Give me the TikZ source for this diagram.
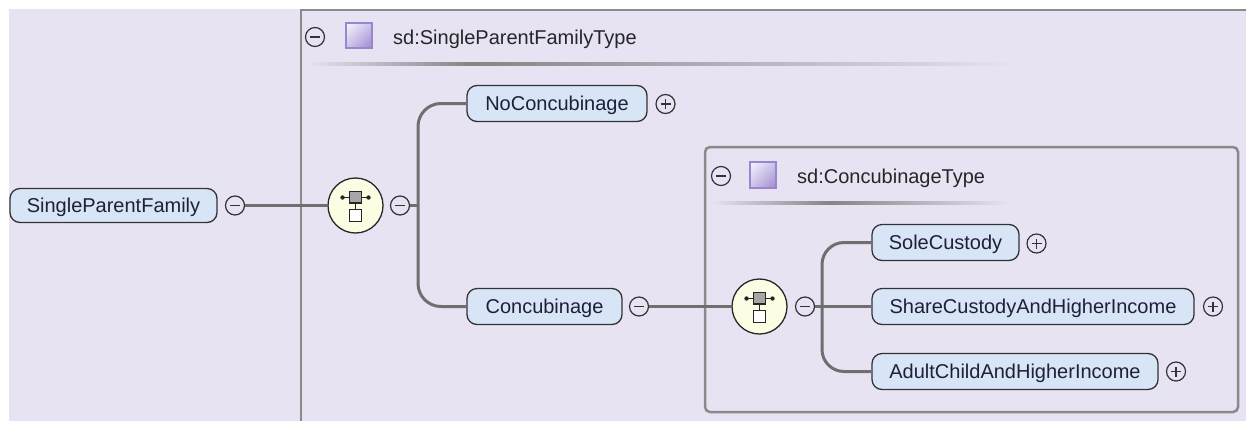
\documentclass[tikz,border=0pt]{standalone}
\usepackage{fontspec}
\setmainfont{Liberation Sans}
\usetikzlibrary{shadings}
\definecolor{bg}{HTML}{E7E3F3}
\definecolor{boxfill}{HTML}{D8E5F7}
\definecolor{framecol}{HTML}{8A8A8A}
\definecolor{conn}{HTML}{6F6F6F}
\definecolor{txt}{HTML}{1F1F3A}
\definecolor{seqfill}{HTML}{FDFDE3}
\definecolor{sepcol}{HTML}{858585}
\definecolor{iconA}{HTML}{F7F5FC}
\definecolor{iconB}{HTML}{CDC2EA}
\definecolor{iconC}{HTML}{9D88CE}
\definecolor{iconD}{HTML}{9A86CC}
\tikzset{
  elem/.style={draw=black!80, line width=1.3pt, fill=boxfill, rounded corners=10pt,
    minimum height=36pt, inner sep=0pt, text=txt, text height=14.3pt, text depth=0pt,
    font=\fontsize{20}{24}\selectfont},
  tog/.style={draw=black!80, line width=1.2pt, circle, minimum size=19pt, inner sep=0pt},
  minus/.style={tog, path picture={\draw[line width=1.2pt, black!80]
      ([xshift=-5pt]path picture bounding box.center) -- ([xshift=5pt]path picture bounding box.center);}},
  plus/.style={tog, path picture={\draw[line width=1.2pt, black!80]
      ([xshift=-5pt]path picture bounding box.center) -- ([xshift=5pt]path picture bounding box.center)
      ([yshift=-5pt]path picture bounding box.center) -- ([yshift=5pt]path picture bounding box.center);}},
  seq/.style={circle, draw=black!85, line width=1.3pt, fill=seqfill, minimum size=55pt, inner sep=0pt},
  connector/.style={draw=conn, line width=3pt},
  frameline/.style={draw=framecol, line width=2.5pt},
  hdr/.style={anchor=west, inner sep=0pt, text=black!85, text height=14.3pt, text depth=0pt,
    font=\fontsize{20}{24}\selectfont},
  typeicon/.style={draw=iconD, line width=1.2pt,
    upper left=iconA, upper right=iconB, lower left=iconB, lower right=iconC},
  seqicon/.pic={
    \draw[line width=1.3pt, black!85] (-13,-8) -- (13,-8);
    \fill[black!85] (-13,-8) circle (2.2) (13,-8) circle (2.2);
    \draw[line width=1.3pt, black!85] (0,-3) -- (0,4);
    \draw[line width=1.3pt, black!85, fill=black!35] (-6,-14) rectangle (6,-2.5);
    \draw[line width=1.3pt, black!85, fill=white] (-6,4) rectangle (6,16);
  }
}
\begin{document}
\begin{tikzpicture}[x=1pt, y=-1pt]
\useasboundingbox (0,0) rectangle (1246,421);
\fill[white] (0,0) rectangle (1246,421);
\fill[bg] (9,9) rectangle (1246,421);

% outer type frame
\draw[frameline] (301,421) -- (301,10) -- (1246,10);
\node[minus] (h1m) at (315,37) {};
\shade[typeicon] (346,23) rectangle (372,48);
\node[hdr] (h1t) at (393,37) {sd:SingleParentFamilyType};
\shade[left color=bg, right color=sepcol] (306,62) rectangle (470,65);
\shade[left color=sepcol, right color=bg] (470,62) rectangle (1020,65);

% inner type frame
\draw[frameline, rounded corners=5pt] (705,147) rectangle (1238,412);
\node[minus] (h2m) at (721,176) {};
\shade[typeicon] (750,162) rectangle (776,188);
\node[hdr] (h2t) at (797,176) {sd:ConcubinageType};
\shade[left color=bg, right color=sepcol] (710,201) rectangle (830,204);
\shade[left color=sepcol, right color=bg] (830,201) rectangle (1010,204);

% nodes
\node[elem, minimum width=207pt, minimum height=34pt] (spf) at (113.5,205.5) {SingleParentFamily};
\node[minus] (spfm) at (235,205.5) {};
\node[seq] (seq1) at (355.5,205.5) {};
\pic at (seq1.center) {seqicon};
\node[minus] (seq1m) at (400,205.5) {};
\node[elem, minimum width=180pt] (noc) at (557,103.5) {NoConcubinage};
\node[plus] (nocp) at (665.5,104) {};
\node[elem, minimum width=155pt] (conc) at (544.5,306.5) {Concubinage};
\node[minus] (concm) at (639,306.5) {};
\node[seq] (seq2) at (759.5,306.5) {};
\pic at (seq2.center) {seqicon};
\node[minus] (seq2m) at (805,306.5) {};
\node[elem, minimum width=147pt] (sole) at (945.5,242.5) {SoleCustody};
\node[plus] (solep) at (1036.5,243.5) {};
\node[elem, minimum width=322pt] (share) at (1033,306.5) {ShareCustodyAndHigherIncome};
\node[plus] (sharep) at (1213,306.5) {};
\node[elem, minimum width=286pt] (adult) at (1015,371.5) {AdultChildAndHigherIncome};
\node[plus] (adultp) at (1176,371.5) {};

% connectors
\coordinate (b1) at (418,205.5);
\coordinate (b2) at (822,306.5);
\draw[connector] (spfm.east) -- (seq1.west);
\draw[connector] (seq1m.east) -- (b1);
\draw[connector, rounded corners=23pt] (noc.west) -| (b1) |- (conc.west);
\draw[connector] (concm.east) -- (seq2.west);
\draw[connector] (seq2m.east) -- (share.west);
\draw[connector, rounded corners=22pt] (sole.west) -| (b2) |- (adult.west);
\end{tikzpicture}
\end{document}
